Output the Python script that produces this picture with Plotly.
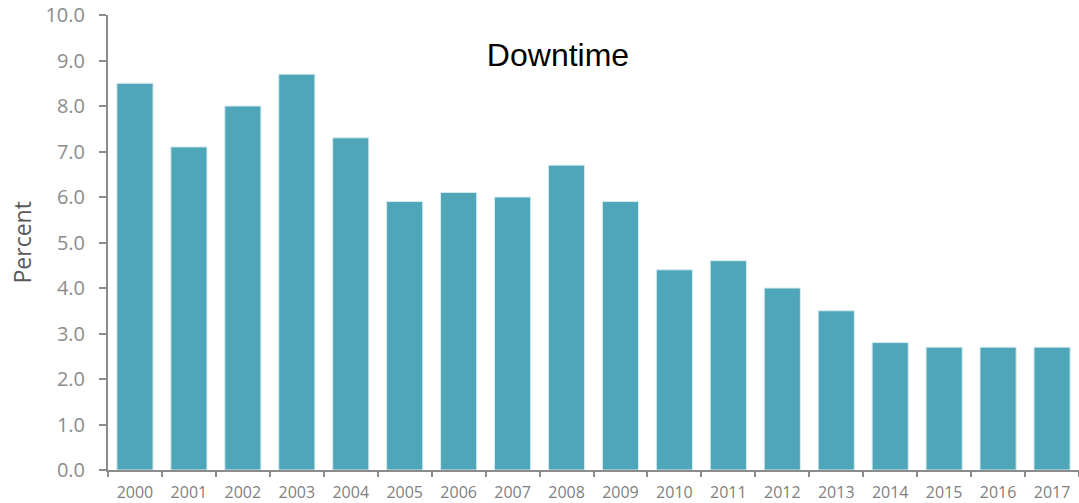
import plotly.graph_objects as go

years = [str(y) for y in range(2000, 2018)]
downtime = [8.5, 7.1, 8.0, 8.7, 7.3, 5.9, 6.1, 6.0, 6.7, 5.9,
            4.4, 4.6, 4.0, 3.5, 2.8, 2.7, 2.7, 2.7]
y_ticks = [i * 1.0 for i in range(11)]

fig = go.Figure(go.Bar(x=years, y=downtime, marker_color="#4EA6B8",
                       marker_line_color="#D6ECF0", marker_line_width=1))

fig.update_layout(
    width=1079, height=503,
    margin=dict(l=108, r=0, t=15, b=26),
    paper_bgcolor="white", plot_bgcolor="white",
    bargap=0.33,
    showlegend=False,
    title=dict(text="Downtime", x=558 / 1079, xanchor="center",
               y=1 - 55 / 503, yanchor="middle",
               font=dict(family="Liberation Sans, Arial", size=32, color="black")),
)
# y-axis title placed by hand, further out than plotly's standoff would put it
fig.add_annotation(text="Percent", textangle=-90, showarrow=False,
                   xref="paper", yref="paper", x=0, y=0.5, xshift=-87,
                   xanchor="center", yanchor="middle",
                   font=dict(family="Open Sans", size=23, color="#595959"))
fig.update_xaxes(
    showline=True, linecolor="#8C8C8C", linewidth=2,
    ticks="outside", tickson="boundaries", ticklen=5, tickcolor="#8C8C8C", tickwidth=2,
    ticklabelstandoff=7,
    tickfont=dict(family="Open Sans", size=16, color="#7F7F7F"),
    showgrid=False,
)
fig.update_yaxes(
    range=[0, 10], tickvals=y_ticks, tickformat=".1f",
    showline=True, linecolor="#8C8C8C", linewidth=2,
    ticks="outside", ticklen=7, tickcolor="#8C8C8C", tickwidth=2,
    ticklabelstandoff=10, ticklabeloverflow="allow",
    tickfont=dict(family="Open Sans", size=20, color="#8C8C8C"),
    showgrid=False, zeroline=False,
)

# drop the default page margin so the figure sits at the window origin
fig.write_html("out.html", config={"displayModeBar": False},
               post_script="document.body.style.margin='0';document.body.style.overflow='hidden';")
